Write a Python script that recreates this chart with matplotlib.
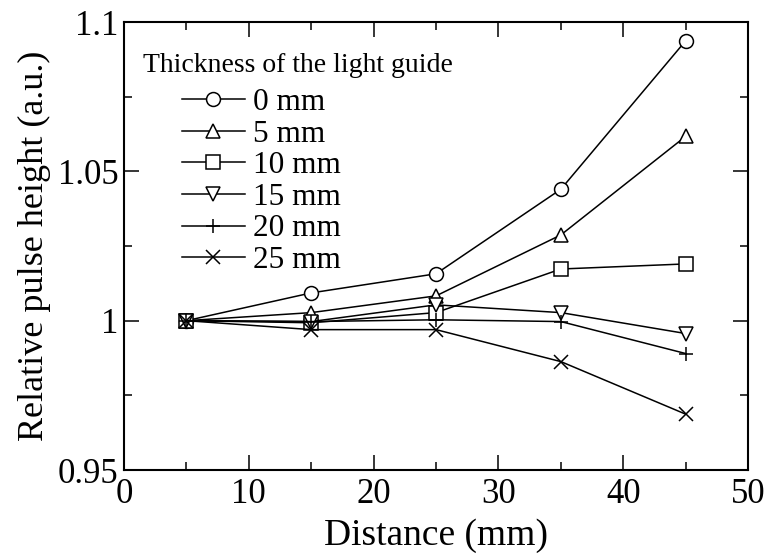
import numpy as np
import matplotlib as mpl
mpl.use('Agg')
import matplotlib.pyplot as plt
from matplotlib.ticker import MultipleLocator

plt.rcParams['font.family'] = ['Liberation Serif', 'DejaVu Serif']

## data
distance = [5, 15, 25, 35, 45]
labels = ['0 mm', '5 mm', '10 mm', '15 mm', '20 mm', '25 mm']
markers = ['o', '^', 's', 'v', '+', 'x']
h0 = [1.0, 1.0093, 1.0157, 1.044, 1.0937]
h5 = [1.0, 1.0027, 1.0083, 1.0287, 1.0617]
h10 = [1.0, 0.9993, 1.0027, 1.0173, 1.019]
h15 = [1.0, 0.9997, 1.0053, 1.0027, 0.9957]
h20 = [1.0, 0.9997, 1.0003, 0.9997, 0.989]
h25 = [1.0, 0.997, 0.997, 0.9863, 0.9687]
series = [h0, h5, h10, h15, h20, h25]

fig = plt.figure(figsize=(7.68, 5.6), dpi=100)
ax = fig.add_axes([0.1615, 0.1607, 0.8125, 0.80])

for y, m, lab in zip(series, markers, labels):
    ax.plot(distance, y, color='black', lw=1.1, marker=m, markersize=10,
            markerfacecolor='white', markeredgecolor='black', markeredgewidth=1.1,
            label=lab)

ax.set_xlim(0, 50)
ax.set_ylim(0.95, 1.1)
ax.xaxis.set_major_locator(MultipleLocator(10))
ax.xaxis.set_minor_locator(MultipleLocator(5))
ax.set_yticks([0.95, 1.0, 1.05, 1.1])
ax.set_yticklabels(['0.95', '1', '1.05', '1.1'])
ax.yaxis.set_minor_locator(MultipleLocator(0.025))
ax.tick_params(which='both', direction='in', top=True, right=True, width=1.1)
ax.tick_params(which='major', length=11, labelsize=25)
ax.tick_params(axis='x', which='major', pad=6)
ax.tick_params(axis='y', which='major', pad=4)
ax.tick_params(which='minor', length=5.5)
for s in ax.spines.values():
    s.set_linewidth(1.5)

ax.set_xlabel('Distance (mm)', fontsize=27, labelpad=5)
ax.set_ylabel('Relative pulse height (a.u.)', fontsize=26, labelpad=5)

ax.text(0.030, 0.888, 'Thickness of the light guide', transform=ax.transAxes,
        fontsize=20, ha='left', va='baseline')
ax.legend(loc='upper left', bbox_to_anchor=(0.093, 0.853), frameon=False,
          fontsize=22.5, handlelength=2.0, handletextpad=0.26,
          labelspacing=0.085, borderaxespad=0.0, borderpad=0.0)

fig.savefig('out.png', dpi=100)
